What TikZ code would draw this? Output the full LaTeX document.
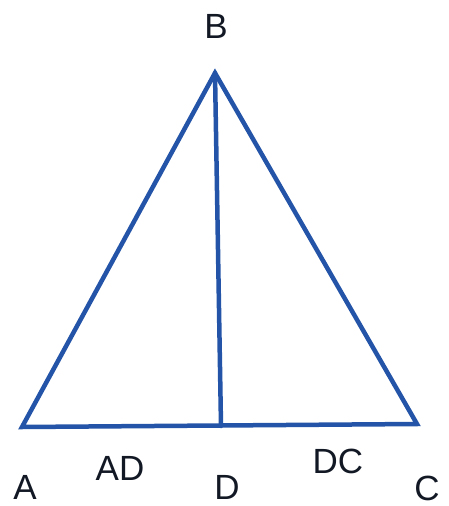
\documentclass[tikz,border=0pt]{standalone}
\usepackage{fontspec}
\setmainfont{Liberation Sans}
\usepackage{tikz}
\usetikzlibrary{positioning}
\definecolor{TriBlue}{RGB}{36, 84, 168}
\definecolor{LabInk}{RGB}{18, 24, 36}

\begin{document}
\begin{tikzpicture}[x=1pt, y=-1pt,
  side/.style={draw=TriBlue, line width=4.5pt, line join=miter, line cap=round},
  lbl/.style={text=LabInk, font=\fontsize{35}{40}\selectfont, inner sep=0pt}]
  \useasboundingbox (0,0) rectangle (448,506);

  % --- vertices ---
  \coordinate (A) at (22,427);
  \coordinate (B) at (215,73);
  \coordinate (C) at (417,424);
  \coordinate (D) at (221,426);

  % --- triangle and segment BD ---
  \draw[side] (A) -- (B) -- (C) -- cycle;
  \draw[side] (B) -- (D);

  % --- labels ---
  \node[lbl] (labB)  at (216,26)  {B};
  \node[lbl] (labA)  at (25,487)  {A};
  \node[lbl] (labAD) at (120,468) {AD};
  \node[lbl] (labD)  at (227,487) {D};
  \node[lbl] (labDC) at (338,461) {DC};
  \node[lbl] (labC)  at (427,488) {C};
\end{tikzpicture}
\end{document}
